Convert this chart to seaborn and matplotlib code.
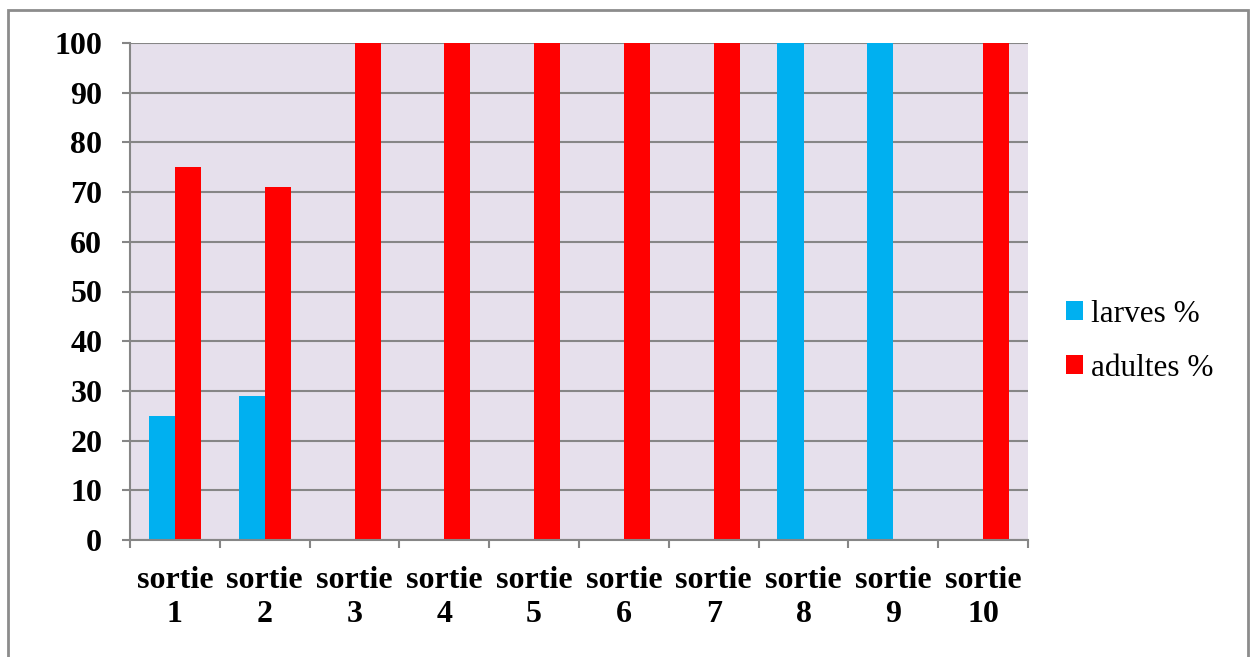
import matplotlib
matplotlib.use("Agg")
import matplotlib.pyplot as plt
from matplotlib.patches import Rectangle
import seaborn as sns
import pandas as pd
import numpy as np

# Data
sorties = ["sortie\n1", "sortie\n2", "sortie\n3", "sortie\n4", "sortie\n5",
           "sortie\n6", "sortie\n7", "sortie\n8", "sortie\n9", "sortie\n10"]
larves = [25, 29, 0, 0, 0, 0, 0, 100, 100, 0]
adultes = [75, 71, 100, 100, 100, 100, 100, 0, 0, 100]
series_names = ["larves %", "adultes %"]
colors = ["#00B0F0", "#FF0000"]

df = pd.DataFrame({
    "sortie": sorties * 2,
    "stade": [series_names[0]] * len(sorties) + [series_names[1]] * len(sorties),
    "pct": larves + adultes,
})

sns.set_theme(style="white")
plt.rcParams["font.family"] = ["Liberation Serif", "DejaVu Serif"]
plt.rcParams["text.color"] = "black"
plt.rcParams["xtick.color"] = "black"
plt.rcParams["ytick.color"] = "black"

W, H = 1254, 657
fig = plt.figure(figsize=(W / 100, H / 100), dpi=100)
ax = fig.add_axes([130 / W, 1 - 540 / H, (1028 - 130) / W, (540 - 43) / H])
ax.set_facecolor("#E6E0EC")

sns.barplot(data=df, x="sortie", y="pct", hue="stade", order=sorties,
            hue_order=series_names, palette=colors, saturation=1,
            width=0.58, linewidth=0, ax=ax, legend=True)

grid_c = "#868686"
ax.set_ylim(0, 100)
ax.set_xlim(-0.5, len(sorties) - 0.5)
ax.set_yticks(np.arange(0, 101, 10))
ax.yaxis.grid(True, color=grid_c, linewidth=1.5)
ax.set_axisbelow(True)
ax.set_xlabel("")
ax.set_ylabel("")

for s in ["top", "right"]:
    ax.spines[s].set_visible(False)
for s in ["left", "bottom"]:
    ax.spines[s].set_visible(True)
    ax.spines[s].set_color(grid_c)
    ax.spines[s].set_linewidth(1.5)

# category boundary ticks on x, labels centered
ax.set_xticks(np.arange(-0.5, len(sorties), 1.0), minor=True)
ax.tick_params(axis="x", which="minor", length=6, width=1.5, color=grid_c,
               direction="out", bottom=True)
ax.tick_params(axis="x", which="major", length=0, pad=19, labelsize=23,
               labelcolor="black")
for lbl in ax.get_xticklabels():
    lbl.set_fontweight("bold")
    lbl.set_linespacing(1.22)
ax.tick_params(axis="y", which="major", length=6, width=1.5, color=grid_c,
               direction="out", left=True, pad=14, labelsize=23,
               labelcolor="black")
for lbl in ax.get_yticklabels():
    lbl.set_fontweight("bold")

handles, labels = ax.get_legend_handles_labels()
leg = ax.legend(handles, labels, loc="center left",
                bbox_to_anchor=(1066 / W, 1 - 341 / H), bbox_transform=fig.transFigure,
                frameon=False, fontsize=22.5, handlelength=0.55, handleheight=0.55,
                handletextpad=0.25, labelspacing=0.8, borderpad=0, borderaxespad=0)
for t in leg.get_texts():
    t.set_color("black")

# chart frame
fig.patches.append(Rectangle((8 / W, -0.01), (1248 - 8) / W, 1 - 10 / H + 0.01,
                             transform=fig.transFigure, fill=False,
                             edgecolor="#8C8C8C", linewidth=2))

fig.savefig("out.png", dpi=100, facecolor="white")
